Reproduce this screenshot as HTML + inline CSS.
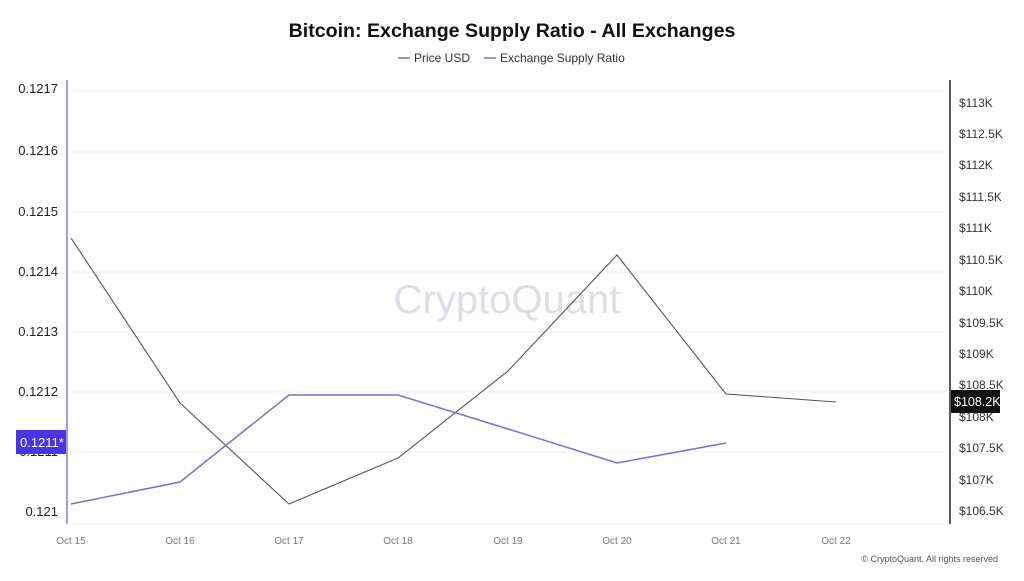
<!DOCTYPE html>
<html><head><meta charset="utf-8"><style>
body{margin:0;background:#fff;font-family:"Liberation Sans",sans-serif;}
</style></head><body>
<svg width="1024" height="576" xmlns="http://www.w3.org/2000/svg" font-family="Liberation Sans, sans-serif">
<rect width="1024" height="576" fill="#fff"/>
<text x="512" y="37" text-anchor="middle" font-size="19.6" font-weight="bold" fill="#111">Bitcoin: Exchange Supply Ratio - All Exchanges</text>
<line x1="398" y1="58" x2="410" y2="58" stroke="#555" stroke-width="1.2"/>
<text x="414" y="62" font-size="12" fill="#333">Price USD</text>
<line x1="484" y1="58" x2="496" y2="58" stroke="#7b6fd6" stroke-width="1.5"/>
<text x="500" y="62" font-size="12" fill="#333">Exchange Supply Ratio</text>
<g stroke="#f2f2f2" stroke-width="1">
<line x1="70" y1="91" x2="945" y2="91"/><line x1="70" y1="152" x2="945" y2="152"/>
<line x1="70" y1="212" x2="945" y2="212"/><line x1="70" y1="272" x2="945" y2="272"/>
<line x1="70" y1="332" x2="945" y2="332"/><line x1="70" y1="392" x2="945" y2="392"/>
<line x1="70" y1="452" x2="945" y2="452"/><line x1="70" y1="524" x2="945" y2="524"/>
</g>
<text x="507" y="313" text-anchor="middle" font-size="40" fill="#dedee8">CryptoQuant</text>
<line x1="67" y1="80" x2="67" y2="524" stroke="#a69ce0" stroke-width="2"/>
<line x1="950" y1="80" x2="950" y2="524" stroke="#222" stroke-width="1.5"/>
<g font-size="13" fill="#222" text-anchor="end">
<text x="58" y="93">0.1217</text><text x="58" y="155">0.1216</text><text x="58" y="216">0.1215</text>
<text x="58" y="276">0.1214</text><text x="58" y="336">0.1213</text><text x="58" y="396">0.1212</text>
<text x="58" y="456">0.1211</text><text x="58" y="516">0.121</text>
</g>
<rect x="16" y="430" width="50" height="24" fill="#4a35e0"/>
<text x="20" y="447" font-size="13" fill="#fff">0.1211*</text>
<g font-size="12" fill="#333">
<text x="959" y="107">$113K</text><text x="959" y="138">$112.5K</text><text x="959" y="169">$112K</text>
<text x="959" y="201">$111.5K</text><text x="959" y="232">$111K</text><text x="959" y="264">$110.5K</text>
<text x="959" y="295">$110K</text><text x="959" y="327">$109.5K</text><text x="959" y="358">$109K</text>
<text x="959" y="389">$108.5K</text><text x="959" y="421">$108K</text><text x="959" y="452">$107.5K</text>
<text x="959" y="484">$107K</text><text x="959" y="515">$106.5K</text>
</g>
<rect x="951" y="390" width="49" height="23" fill="#111"/>
<text x="954" y="406" font-size="12.5" fill="#fff">$108.2K</text>
<g font-size="10" fill="#777" text-anchor="middle">
<text x="71" y="544">Oct 15</text><text x="180" y="544">Oct 16</text><text x="289" y="544">Oct 17</text>
<text x="398" y="544">Oct 18</text><text x="508" y="544">Oct 19</text><text x="617" y="544">Oct 20</text>
<text x="726" y="544">Oct 21</text><text x="836" y="544">Oct 22</text>
</g>
<polyline fill="none" stroke="#555" stroke-width="1.1" points="71,238 180,403 289,504 398,458 508,371 617,255 726,394 836,402"/>
<polyline fill="none" stroke="#7b6fd6" stroke-width="1.5" points="71,504 180,482 289,395 398,395 508,429 617,463 726,443"/>
<text x="998" y="562" text-anchor="end" font-size="9" fill="#555">© CryptoQuant. All rights reserved</text>
</svg>
</body></html>
